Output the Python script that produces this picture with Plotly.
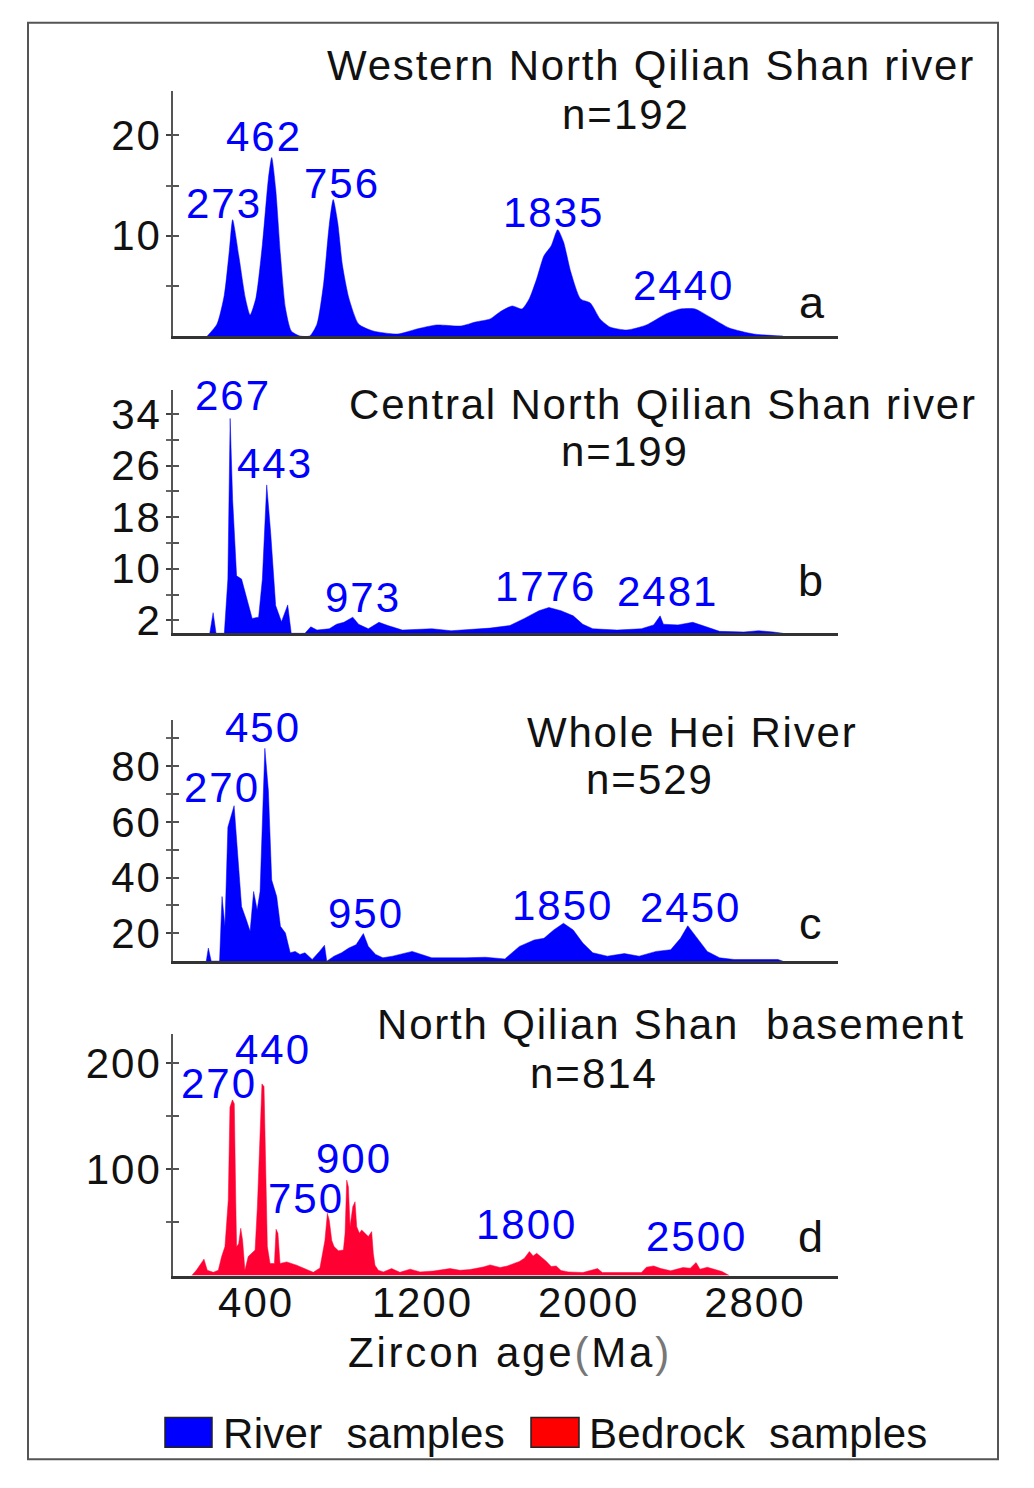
import plotly.graph_objects as go

# ---------------- data ----------------
age_a = [165, 212, 247, 271, 287, 318, 348, 371, 399, 430, 459, 475, 494, 517, 541, 569, 611, 658,
         693, 724, 752, 771, 792, 815, 846, 893, 963, 1081, 1174, 1268, 1386, 1456, 1526, 1573, 1632,
         1679, 1714, 1750, 1785, 1820, 1851, 1879, 1914, 1961, 2008, 2055, 2102, 2184, 2278, 2372,
         2442, 2512, 2583, 2677, 2794, 2935]
val_a = [0, 1.2, 4.1, 8.5, 11.6, 7.8, 3.8, 2.1, 3.8, 9.1, 15.7, 17.8, 14.7, 8.1, 2.8, 0.5, 0, 0,
         1.2, 5.1, 11.1, 13.6, 11.4, 7.1, 3.8, 1.2, 0.5, 0.2, 0.7, 1.1, 1.0, 1.4, 1.7, 2.4, 3.0,
         2.7, 3.7, 5.7, 8.0, 9.0, 10.6, 9.4, 6.4, 3.7, 3.3, 1.7, 0.9, 0.6, 1.1, 2.2,
         2.7, 2.7, 1.9, 0.8, 0.2, 0]

age_b = [177, 193, 207, 247, 264, 275, 287, 306, 330, 353, 381, 412, 430, 451, 470, 494, 522, 552,
         569, 635, 663, 693, 752, 787, 822, 865, 893, 940, 991, 1034, 1104, 1245, 1339, 1526, 1621,
         1691, 1761, 1809, 1867, 1926, 1972, 2020, 2137, 2254, 2313, 2344, 2360, 2430, 2501, 2548,
         2630, 2747, 2818, 2888, 2935]
val_b = [0, 3.2, 0, 0, 8.4, 33.3, 20.7, 8.9, 8.4, 5.8, 2.3, 2.5, 8.4, 23.0, 15.6, 4.3, 1.8, 4.4,
         0, 0, 1.0, 0.5, 0.7, 1.4, 1.7, 2.5, 1.4, 0.7, 1.7, 1.2, 0.5, 0.7, 0.4, 0.8, 1.2,
         2.3, 3.5, 4.0, 3.5, 2.7, 1.4, 0.7, 0.5, 0.7, 1.3, 2.7, 1.4, 1.3, 1.7, 1.2,
         0.3, 0.2, 0.4, 0.2, 0]

age_c = [160, 170, 184, 224, 236, 250, 264, 278, 294, 311, 330, 353, 371, 388, 405, 419, 430, 442,
         459, 475, 499, 517, 541, 564, 588, 611, 635, 670, 705, 729, 740, 775, 811, 846, 881, 916,
         940, 975, 1010, 1057, 1151, 1245, 1409, 1503, 1597, 1667, 1738, 1785, 1832, 1879, 1926,
         1972, 2020, 2090, 2172, 2243, 2325, 2395, 2442, 2477, 2517, 2571, 2630, 2700, 2911, 2935]
val_c = [10, 14.7, 10, 10, 33.2, 22.5, 58.1, 61.7, 65.8, 48.6, 29.6, 24.8, 20.7, 35.0, 28.4, 35.0, 58.1, 86.4,
         71.2, 39.1, 33.2, 22.5, 20.1, 13.0, 13.5, 12.4, 13.0, 10.6, 13.5, 15.7, 10, 11.8, 13.0, 14.7, 15.9, 19.9,
         15.3, 12.4, 11.2, 11.8, 13.5, 11.2, 11.2, 11.4, 10.8, 15.3, 17.6, 18.2, 21.2, 23.6, 21.2,
         16.5, 13.0, 11.8, 12.7, 11.8, 13.5, 14.1, 18.2, 22.7, 18.8, 13.5, 11.2, 10.6, 10.6, 10]

age_d = [90, 114, 149, 165, 194, 218, 234, 250, 266, 274, 286, 295, 302, 306, 316, 326, 335, 346,
         362, 379, 395, 406, 419, 428, 438, 444, 454, 467, 488, 496, 505, 515, 547, 595, 643, 675,
         707, 731, 743, 752, 764, 775, 796, 820, 828, 836, 844, 852, 865, 876, 884, 897, 908, 924,
         940, 956, 964, 972, 988, 1012, 1052, 1092, 1141, 1189, 1253, 1333, 1381, 1429, 1493, 1526,
         1574, 1609, 1644, 1667, 1691, 1715, 1733, 1750, 1773, 1797, 1820, 1844, 1867, 1902, 1972,
         2043, 2066, 2161, 2254, 2278, 2313, 2348, 2395, 2454, 2489, 2517, 2536, 2571, 2606, 2642, 2677]
val_d = [0, 5.3, 15.4, 4.9, 3, 5, 17.8, 27.2, 71, 158.4, 165.3, 161.6, 71, 27, 30, 44.4, 33, 4.9,
         17.8, 20.8, 23.9, 64.7, 133.4, 180.3, 177.8, 108.4, 27.2, 11.3, 11.3, 43.5, 39.7, 11.3, 12.8, 9.7, 5.3, 3,
         7, 33, 58.5, 52, 33, 27.2, 23.3, 24, 39.7, 89.7, 83.5, 46, 64.7, 69.4, 46, 39.7, 42.8, 39.7,
         36.6, 41.3, 20.8, 9.7, 4.9, 3.4, 6.5, 3, 6, 3.4, 4.2, 6.5, 4.9, 5.6, 8, 10,
         7.5, 9, 11.6, 13.2, 16.3, 22.5, 18.4, 20.9, 17.2, 13.2, 8.4, 9, 4.7, 3.4, 2.8,
         6.5, 2.8, 3, 2.8, 7.8, 9, 6.5, 4.4, 7.5, 6.9, 12.2, 5.9, 7.8, 5.9, 3.7, 0]

titles = ["Western North Qilian Shan river", "Central North Qilian Shan river",
          "Whole Hei River", "North Qilian Shan\u00a0\u00a0basement"]
counts = ["n=192", "n=199", "n=529", "n=814"]
letters = ["a", "b", "c", "d"]
peaks_a = ["273", "462", "756", "1835", "2440"]
peaks_b = ["267", "443", "973", "1776", "2481"]
peaks_c = ["450", "270", "950", "1850", "2450"]
peaks_d = ["440", "270", "900", "750", "1800", "2500"]

x_ticks = [400, 1200, 2000, 2800]
y_major = [[10, 20], [2, 10, 18, 26, 34], [20, 40, 60, 80], [100, 200]]
y_minor = [[5, 15], [6, 14, 22, 30], [30, 50, 70, 90], [50, 150]]
y_ranges = [[0, 24.4], [0, 37.7], [10, 96.7], [0, 227]]
legend_names = ["River\u00a0\u00a0samples", "Bedrock\u00a0\u00a0samples"]

BLUE = "#0000ff"
RED = "#ff0033"

# ---------------- layout helpers ----------------
W, H, OFF = 1030, 1488, 0


def px(x):
    return (x - OFF) / W


def py(y):
    return 1 - (y - OFF) / H


def sp(t, ls=2.0):
    return '<span style="letter-spacing:%.1fpx">%s</span>' % (ls, t)


FONT = "Arial, Liberation Sans, sans-serif"
FS = 42

panel_px = [(92, 338.5), (393, 638), (725, 968.3), (1042, 1285)]
X0, X1 = 173, 838

fig = go.Figure()
series = [(age_a, val_a, BLUE), (age_b, val_b, BLUE), (age_c, val_c, BLUE), (age_d, val_d, RED)]
for i, (ag, vl, col) in enumerate(series):
    sfx = "" if i == 0 else str(i + 1)
    fig.add_trace(go.Scatter(x=ag, y=vl, mode="lines", fill="tozeroy",
                             line=dict(color=col, width=0.5, shape="spline" if i == 0 else "linear",
                                       smoothing=0.6),
                             fillcolor=col, showlegend=False, hoverinfo="skip",
                             xaxis="x" + sfx, yaxis="y" + sfx))
    # empty companion trace so the overlaid "inside tick" axis is drawn
    fig.add_trace(go.Scatter(x=[None], y=[None], mode="lines", showlegend=False, hoverinfo="skip",
                             xaxis="x" + sfx, yaxis="y" + str(i + 5)))

layout = dict(width=W, height=H, margin=dict(l=0, r=0, t=0, b=0),
              paper_bgcolor="white", plot_bgcolor="white", showlegend=False,
              font=dict(family=FONT, size=FS, color="#111"))

for i in range(4):
    sfx = "" if i == 0 else str(i + 1)
    top, bot = panel_px[i]
    layout["xaxis" + sfx] = dict(domain=[px(X0), px(X1)], range=[0, 3200], anchor="y" + sfx,
                                 showgrid=False, zeroline=False, showline=True,
                                 linecolor="#333", linewidth=2.5, ticks="",
                                 tickmode="array", tickvals=x_ticks,
                                 ticktext=[sp(str(v)) for v in x_ticks],
                                 showticklabels=(i == 3), ticklabelstandoff=-12,
                                 tickfont=dict(size=FS, color="#111", family=FONT))
    layout["yaxis" + sfx] = dict(domain=[py(bot), py(top)], range=y_ranges[i], anchor="x" + sfx,
                                 showgrid=False, zeroline=False, showline=True,
                                 linecolor="#555", linewidth=1.5,
                                 tickmode="array", tickvals=y_major[i],
                                 ticktext=[sp(str(v)) for v in y_major[i]], ticks="outside",
                                 ticklen=5, tickwidth=1.5, tickcolor="#444", ticklabelstandoff=-4,
                                 minor=dict(tickvals=y_minor[i], ticks="outside", ticklen=5,
                                            tickwidth=1.5, tickcolor="#666"),
                                 tickfont=dict(size=FS, color="#111", family=FONT))
    layout["yaxis" + str(i + 5)] = dict(overlaying="y" + sfx, anchor="x" + sfx, side="left",
                                        range=y_ranges[i], showgrid=False, zeroline=False,
                                        showline=False, showticklabels=False,
                                        tickmode="array", tickvals=y_major[i] + y_minor[i],
                                        ticks="inside", ticklen=6, tickwidth=1.5, tickcolor="#555")

ann = []


def txt(t, x, y, color="#111", size=FS, xanchor="center", ls=2.0):
    ann.append(dict(text=sp(t, ls), x=px(x), y=py(y), xref="paper", yref="paper", showarrow=False,
                    xanchor=xanchor, yanchor="middle", font=dict(size=size, color=color, family=FONT)))


title_pos = [(651, 66), (663, 408), (692, 738), (671, 1032)]
count_pos = [(626, 115), (625, 455), (650, 785), (594, 1081)]
letter_pos = [(812, 305), (810, 585), (810, 930), (810, 1246)]
for i in range(4):
    txt(titles[i], *title_pos[i], ls=1.8)
    txt(counts[i], *count_pos[i])
    txt(letters[i], *letter_pos[i], size=FS + 3, ls=0)

peak_pos = [
    [(224, 205), (264, 138), (342, 185), (553, 214), (683, 288)],
    [(233, 398), (275, 467), (363, 602), (545, 591), (667, 596)],
    [(263, 733), (222, 793), (366, 920), (562, 912), (690, 914)],
    [(273, 1057), (219, 1092), (354, 1167), (306, 1207), (526, 1234), (696, 1246)],
]
for labels, poss in zip([peaks_a, peaks_b, peaks_c, peaks_d], peak_pos):
    for lab, (x, y) in zip(labels, poss):
        txt(lab, x, y, color=BLUE)

txt('Zircon age<span style="color:#777">(</span>Ma<span style="color:#777">)</span>', 510, 1363, ls=2.8)
txt(legend_names[0], 221, 1444, xanchor="left", ls=0.3)
txt(legend_names[1], 587, 1444, xanchor="left", ls=0.3)
layout["annotations"] = ann

shapes = [
    dict(type="rect", xref="paper", yref="paper", x0=px(28), x1=px(998), y0=py(1470), y1=py(23),
         line=dict(color="#555", width=2), fillcolor="rgba(0,0,0,0)", layer="below"),
    dict(type="rect", xref="paper", yref="paper", x0=px(165), x1=px(212), y0=py(1458), y1=py(1428),
         line=dict(color="#222", width=1.5), fillcolor=BLUE),
    dict(type="rect", xref="paper", yref="paper", x0=px(531), x1=px(579), y0=py(1458), y1=py(1428),
         line=dict(color="#222", width=1.5), fillcolor="#ff0000"),
]
layout["shapes"] = shapes

fig.update_layout(**layout)
fig.write_html("out.html", config={"displayModeBar": False},
               post_script="document.body.style.margin='0px';")
